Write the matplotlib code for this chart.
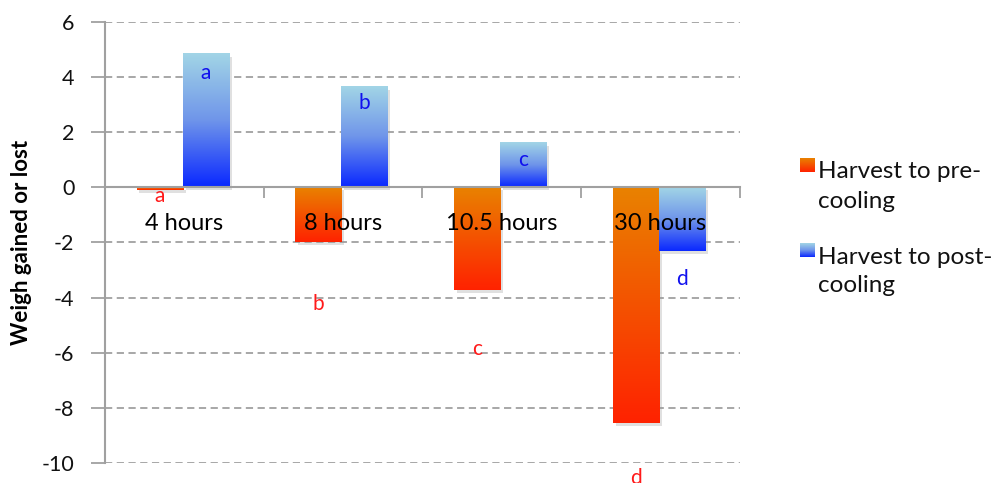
import numpy as np
import matplotlib
matplotlib.use("Agg")
import matplotlib.pyplot as plt
from matplotlib.colors import LinearSegmentedColormap
from matplotlib import patheffects as pe

plt.rcParams['font.family'] = ['Lato', 'DejaVu Sans']

categories = ["4 hours", "8 hours", "10.5 hours", "30 hours"]
pre_cooling = [-0.1, -1.98, -3.72, -8.55]
post_cooling = [4.84, 3.64, 1.61, -2.31]
pre_letters = ["a", "b", "c", "d"]
post_letters = ["a", "b", "c", "d"]
pre_letter_y = [-0.31, -4.23, -5.86, -10.54]
post_letter_y = [4.15, 3.06, 1.0, -3.33]
series_names = ["Harvest to pre-\ncooling", "Harvest to post-\ncooling"]
yticks = [-10, -8, -6, -4, -2, 0, 2, 4, 6]

pre_cmap = LinearSegmentedColormap.from_list("pre", ["#E98200", "#FF2200"])
post_cmap = LinearSegmentedColormap.from_list("post", ["#A2D5E6", "#6F95EA", "#0A28FF"])

fig = plt.figure(figsize=(9.95, 4.83), dpi=100)
ax = fig.add_axes([0.1055, 0.0414, 0.638, 0.9131])

x = np.arange(len(categories))
w = 0.29
grad = np.linspace(0, 1, 256).reshape(-1, 1)

def draw_bars(xpos, vals, cmap):
    bars = ax.bar(xpos, vals, width=w, color="white", zorder=2, linewidth=0,
                  path_effects=[pe.SimplePatchShadow(offset=(2, -2), shadow_rgbFace="#999999", alpha=0.3), pe.Normal()])
    for b in bars:
        x0 = b.get_x()
        y0 = b.get_y()
        h = b.get_height()
        lo, hi = min(y0, y0 + h), max(y0, y0 + h)
        ax.imshow(grad, cmap=cmap, aspect="auto", origin="upper",
                  extent=[x0, x0 + b.get_width(), lo, hi], zorder=3)
    return bars

draw_bars(x - w / 2 - 0.01, pre_cooling, pre_cmap)
draw_bars(x + w / 2 - 0.01, post_cooling, post_cmap)

for xi, lab, yy in zip(x - w / 2 - 0.01, pre_letters, pre_letter_y):
    ax.text(xi, yy, lab, color="#FF1A1A", fontsize=15, ha="center", va="center", zorder=5, clip_on=False)
for xi, lab, yy in zip(x + w / 2 - 0.01, post_letters, post_letter_y):
    ax.text(xi, yy, lab, color="#1010EE", fontsize=15, ha="center", va="center", zorder=5)
for xi, lab in zip(x, categories):
    ax.text(xi, -1.3, lab, color="black", fontsize=17, ha="center", va="center", zorder=6)

ax.set_xlim(-0.5, len(categories) - 0.5)
ax.set_ylim(-10, 6)
ax.set_yticks(yticks)
ax.set_yticklabels([str(v) for v in yticks], fontsize=15.5, color="#111111")
ax.yaxis.grid(True, linestyle=(0, (4, 2.5)), color="#A0A0A0", linewidth=1.3)
ax.set_axisbelow(True)
ax.tick_params(axis="y", length=10, width=1.3, color="#A0A0A0", pad=12)

ax.set_xticks(np.arange(-0.5, len(categories), 1.0))
ax.set_xticklabels([])
ax.tick_params(axis="x", length=8, width=1.3, color="#A0A0A0", direction="out")

for s in ["top", "right"]:
    ax.spines[s].set_visible(False)
ax.spines["bottom"].set_position(("data", 0))
ax.spines["bottom"].set_color("#A0A0A0")
ax.spines["bottom"].set_linewidth(1.5)
ax.spines["bottom"].set_zorder(4)
ax.spines["left"].set_color("#A0A0A0")
ax.spines["left"].set_linewidth(1.5)

ax.set_ylabel("Weigh gained or lost", fontsize=16, fontweight="bold")
ax.yaxis.set_label_coords(-0.115, 0.5)

# legend
legend_items = [(series_names[0], pre_cmap, 165), (series_names[1], post_cmap, 250)]
for name, cmap, ypix in legend_items:
    lax = fig.add_axes([800 / 995, (483 - ypix - 7) / 483, 15 / 995, 14 / 483])
    lax.imshow(grad, cmap=cmap, aspect="auto", origin="upper")
    lax.set_axis_off()
    for i, line in enumerate(name.split("\n")):
        fig.text(818 / 995, (483 - (ypix + 7 + 29 * i)) / 483, line, fontsize=17.5,
                 ha="left", va="center", color="#111111")

fig.savefig("out.png", dpi=100)
